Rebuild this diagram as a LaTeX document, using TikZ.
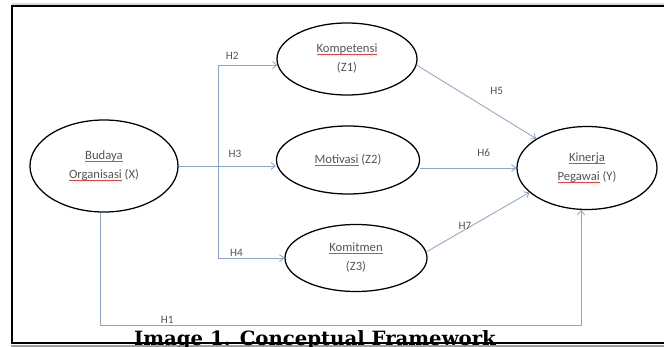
\documentclass[tikz,border=0pt]{standalone}
\usepackage{fontspec}
\setmainfont{Carlito}
\newfontfamily\capfont{DejaVu Serif}
\usetikzlibrary{arrows.meta,positioning,shapes.geometric,calc}
\definecolor{linkBlue}{HTML}{8EA6C9}
\definecolor{txtGray}{HTML}{555555}
\definecolor{spellRed}{HTML}{E04848}
\newcommand{\typo}[1]{\leavevmode\setbox0\hbox{#1}\rlap{\textcolor{spellRed}{\rule[-1.3pt]{\wd0}{0.35pt}}}\box0\relax}

\begin{document}
\begin{tikzpicture}[x=0.025cm,y=-0.025cm,>={Straight Barb[length=3pt,width=5pt]},
  var/.style={draw,ellipse,line width=0.9pt,inner sep=0pt,align=center,text=txtGray,
    font=\fontsize{9}{13.5}\selectfont},
  link/.style={->,draw=linkBlue,line width=0.6pt},
  hlab/.style={text=txtGray,font=\fontsize{8}{9}\selectfont,inner sep=1pt}]
  \useasboundingbox (0,0) rectangle (664,347);
  \clip (0,0) rectangle (664,347);
  % frame
  \draw[gray!30,line width=0.8pt] (12,4) -- (670,4);
  \draw[line width=1.3pt] (670,6) -- (12,6) -- (12,343) -- (670,343);
  \fill[gray!75] (11,344.5) rectangle (670,348);
  % variables
  \node[var,minimum width=3.7cm,minimum height=2.3cm] (X) at (104,166) {\typo{Budaya}\\\typo{Organisasi} (X)};
  \node[var,minimum width=3.5cm,minimum height=1.8cm] (Z1) at (347,59) {\typo{Kompetensi}\\(Z1)};
  \node[var,minimum width=3.575cm,minimum height=1.7cm] (Z2) at (348,160) {\typo{Motivasi} (Z2)};
  \node[var,minimum width=3.55cm,minimum height=1.675cm] (Z3) at (356,258) {\typo{Komitmen}\\(Z3)};
  \node[var,minimum width=3.5cm,minimum height=2.075cm] (Y) at (587,168) {\typo{Kinerja}\\\typo{Pegawai} (Y)};
  % hypotheses
  \coordinate (split) at (218,166);
  \draw[link] (X.east) -- node[hlab,pos=0.58,above=5pt]{H3} (X.east -| Z2.west);
  \draw[link] (split) |- node[hlab,pos=0.62,above=2.5pt]{H2} (Z1.185);
  \draw[link] (split) |- node[hlab,pos=0.64,above=0pt]{H4} (Z3.west);
  \draw[link] (Z1.-5) -- node[hlab,pos=0.67,above=13pt]{H5} (Y.150);
  \draw[link] (Z2.east |- Y.west) -- node[hlab,pos=0.66,above=7pt]{H6} (Y.west);
  \draw[link] (Z3.5) -- node[hlab,pos=0.375,above=-1pt]{H7} (Y.203);
  \draw[link] (X.265) |- node[hlab,pos=0.57,above=0pt]{H1} ($(Y.262)+(0,115)$) -- (Y.262);
  % caption
  \node[font=\capfont\bfseries\fontsize{14}{16}\selectfont,anchor=base] (cap) at (315,345.5) {Image 1. Conceptual Framework};
\end{tikzpicture}
\end{document}
